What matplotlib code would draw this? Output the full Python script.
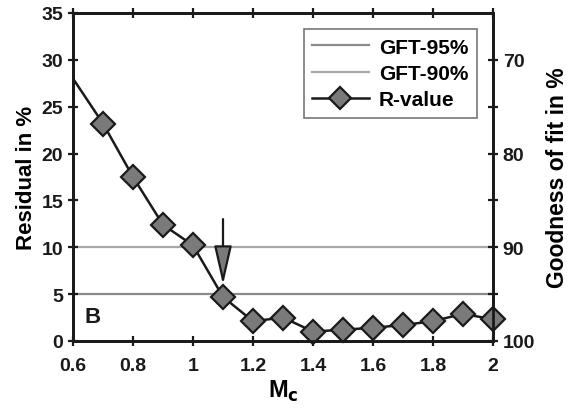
import matplotlib
matplotlib.use("Agg")
import matplotlib.pyplot as plt
from matplotlib.lines import Line2D

plt.rcParams['font.family'] = ['Liberation Sans', 'DejaVu Sans']
plt.rcParams['font.weight'] = 'bold'

mc = [0.6, 0.7, 0.8, 0.9, 1.0, 1.1, 1.2, 1.3, 1.4, 1.5, 1.6, 1.7, 1.8, 1.9, 2.0]
residual = [28.0, 23.2, 17.5, 12.4, 10.2, 4.7, 2.1, 2.5, 1.0, 1.2, 1.4, 1.7, 2.1, 2.9, 2.3]
gft95 = 5
gft90 = 10
xticks = [0.6, 0.8, 1.0, 1.2, 1.4, 1.6, 1.8, 2.0]
xticklabels = ['0.6', '0.8', '1', '1.2', '1.4', '1.6', '1.8', '2']
yticks = [0, 5, 10, 15, 20, 25, 30, 35]
rticks = [70, 75, 80, 85, 90, 95, 100]
rticklabels = ['70', '', '80', '', '90', '', '100']
arrow_x = 1.1
arrow_from = 13.0
arrow_to = 6.0

fig = plt.figure(figsize=(5.68, 4.1), dpi=100)
ax = fig.add_axes([0.1285, 0.166, 0.7395, 0.8])

ax.axhline(gft95, color='#8a8a8a', lw=1.6, zorder=1)
ax.axhline(gft90, color='#a8a8a8', lw=1.6, zorder=1)
ax.plot(mc, residual, color='#1a1a1a', lw=1.8, zorder=3, clip_on=True)
ax.plot(mc[1:], residual[1:], ls='none', marker='D', ms=12, mfc='#7a7a7a',
        mec='#1a1a1a', mew=1.6, zorder=4, clip_on=False)

ax.annotate('', xy=(arrow_x, arrow_to), xytext=(arrow_x, arrow_from),
            arrowprops=dict(arrowstyle='-|>,head_length=2.4,head_width=0.55',
                            color='#1a1a1a', lw=1.6, fc='#7a7a7a',
                            shrinkA=0, shrinkB=0), zorder=5)

ax.text(0.638, 2.0, 'B', fontsize=16, fontweight='bold', color='#1a1a1a')

ax.set_xlim(0.6, 2.0)
ax.set_ylim(0, 35)
ax.set_xticks(xticks)
ax.set_xticklabels(xticklabels)
ax.set_yticks(yticks)
ax.tick_params(axis='both', direction='inout', length=7, width=1.6, labelsize=14,
               colors='#1a1a1a', top=True)
ax.tick_params(axis='x', pad=8)
for s in ax.spines.values():
    s.set_linewidth(2)
    s.set_color('#1a1a1a')
ax.set_xlabel('M$_{\\mathbf{c}}$', fontsize=17, fontweight='bold', labelpad=3)
ax.set_ylabel('Residual in %', fontsize=16, fontweight='bold', labelpad=3)

ax2 = ax.twinx()
ax2.set_ylim(100, 65)
ax2.set_yticks(rticks)
ax2.set_yticklabels(rticklabels)
ax2.tick_params(axis='y', direction='inout', length=7, width=1.6, labelsize=14,
                colors='#1a1a1a')
for s in ax2.spines.values():
    s.set_linewidth(2)
    s.set_color('#1a1a1a')
ax2.set_ylabel('Goodness of fit in %', fontsize=16.5, fontweight='bold', labelpad=8)

handles = [Line2D([], [], color='#8a8a8a', lw=1.6),
           Line2D([], [], color='#a8a8a8', lw=1.6),
           Line2D([], [], color='#1a1a1a', lw=1.8, marker='D', ms=11,
                  mfc='#7a7a7a', mec='#1a1a1a', mew=1.6)]
leg = ax.legend(handles, ['GFT-95%', 'GFT-90%', 'R-value'], loc='upper right',
                bbox_to_anchor=(0.986, 0.982), fontsize=15, fancybox=False,
                frameon=True, edgecolor='#555555', handlelength=2.7,
                borderpad=0.4, labelspacing=0.35, handletextpad=0.5)
leg.get_frame().set_linewidth(1.2)

fig.savefig('out.png', dpi=100)
